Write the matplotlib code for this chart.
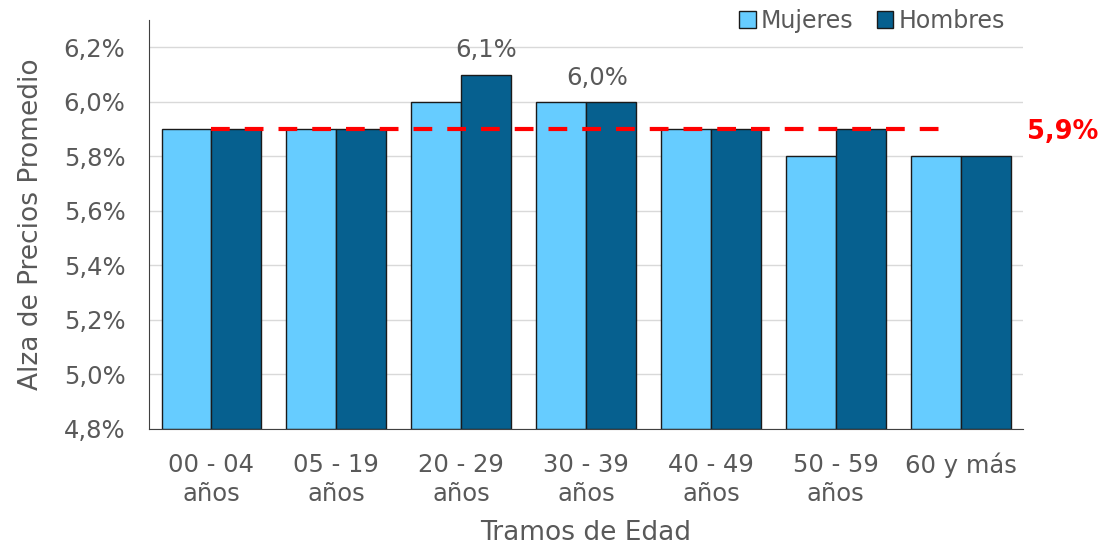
import matplotlib.pyplot as plt
import numpy as np

# categories and values (in %)
tramos = ['00 - 04\naños', '05 - 19\naños', '20 - 29\naños', '30 - 39\naños',
          '40 - 49\naños', '50 - 59\naños', '60 y más']
mujeres = [5.9, 5.9, 6.0, 6.0, 5.9, 5.8, 5.8]
hombres = [5.9, 5.9, 6.1, 6.0, 5.9, 5.9, 5.8]
promedio = 5.9

gris = '#595959'
plt.rcParams['font.family'] = ['DejaVu Sans']

fig = plt.figure(figsize=(11.03, 5.48), dpi=100)
ax = fig.add_axes([0.1351, 0.2172, 0.7924, 0.7463])

x = np.arange(len(tramos))
w = 0.4
base = 4.8
ax.bar(x - w/2, np.array(mujeres) - base, w, bottom=base, color='#66ccff',
       edgecolor='#1a1a1a', linewidth=1, label='Mujeres', zorder=2)
ax.bar(x + w/2, np.array(hombres) - base, w, bottom=base, color='#06608f',
       edgecolor='#1a1a1a', linewidth=1, label='Hombres', zorder=2)

# average line
ax.plot([x[0], x[-1] - 0.1], [promedio, promedio], color='#ff0000',
        linestyle=(0, (4.5, 3.6)), linewidth=3, zorder=3)
ax.text(1.004, promedio - 0.01, '5,9%', transform=ax.get_yaxis_transform(),
        color='#ff0000', fontsize=18.5, fontweight='bold', va='center',
        ha='left', clip_on=False)

# data labels
ax.text(x[2] + w/2, hombres[2] + 0.045, '6,1%', ha='center', va='bottom',
        fontsize=17.5, color=gris)
ax.text(x[3] + 0.09, mujeres[3] + 0.045, '6,0%', ha='center', va='bottom',
        fontsize=17.5, color=gris)

ax.set_xlim(-0.5, len(tramos) - 0.5)
ax.set_ylim(4.8, 6.3)
yt = np.arange(4.8, 6.21, 0.2)
ax.set_yticks(yt)
ax.set_yticklabels([f'{v:.1f}%'.replace('.', ',') for v in yt])
ax.set_xticks(x)
ax.set_xticklabels(tramos, linespacing=1.3)
ax.tick_params(axis='both', length=0, labelsize=17.5, colors=gris)
ax.tick_params(axis='y', pad=17)
ax.tick_params(axis='x', pad=17)

ax.grid(axis='y', color='#d9d9d9', linewidth=1, zorder=0)
ax.set_axisbelow(True)
for s in ['top', 'right']:
    ax.spines[s].set_visible(False)
ax.spines['left'].set_color('#404040')
ax.spines['bottom'].set_color('#404040')

ax.set_ylabel('Alza de Precios Promedio', fontsize=19, color=gris, labelpad=14)
ax.set_xlabel('Tramos de Edad', fontsize=19, color=gris, labelpad=10)

leg = fig.legend(loc='center right', bbox_to_anchor=(0.93, 0.962), ncol=2,
                 frameon=False, fontsize=17, handlelength=0.7,
                 handleheight=0.7, handletextpad=0.2, columnspacing=1.0)
for t in leg.get_texts():
    t.set_color(gris)

fig.savefig('out.png', dpi=100)
